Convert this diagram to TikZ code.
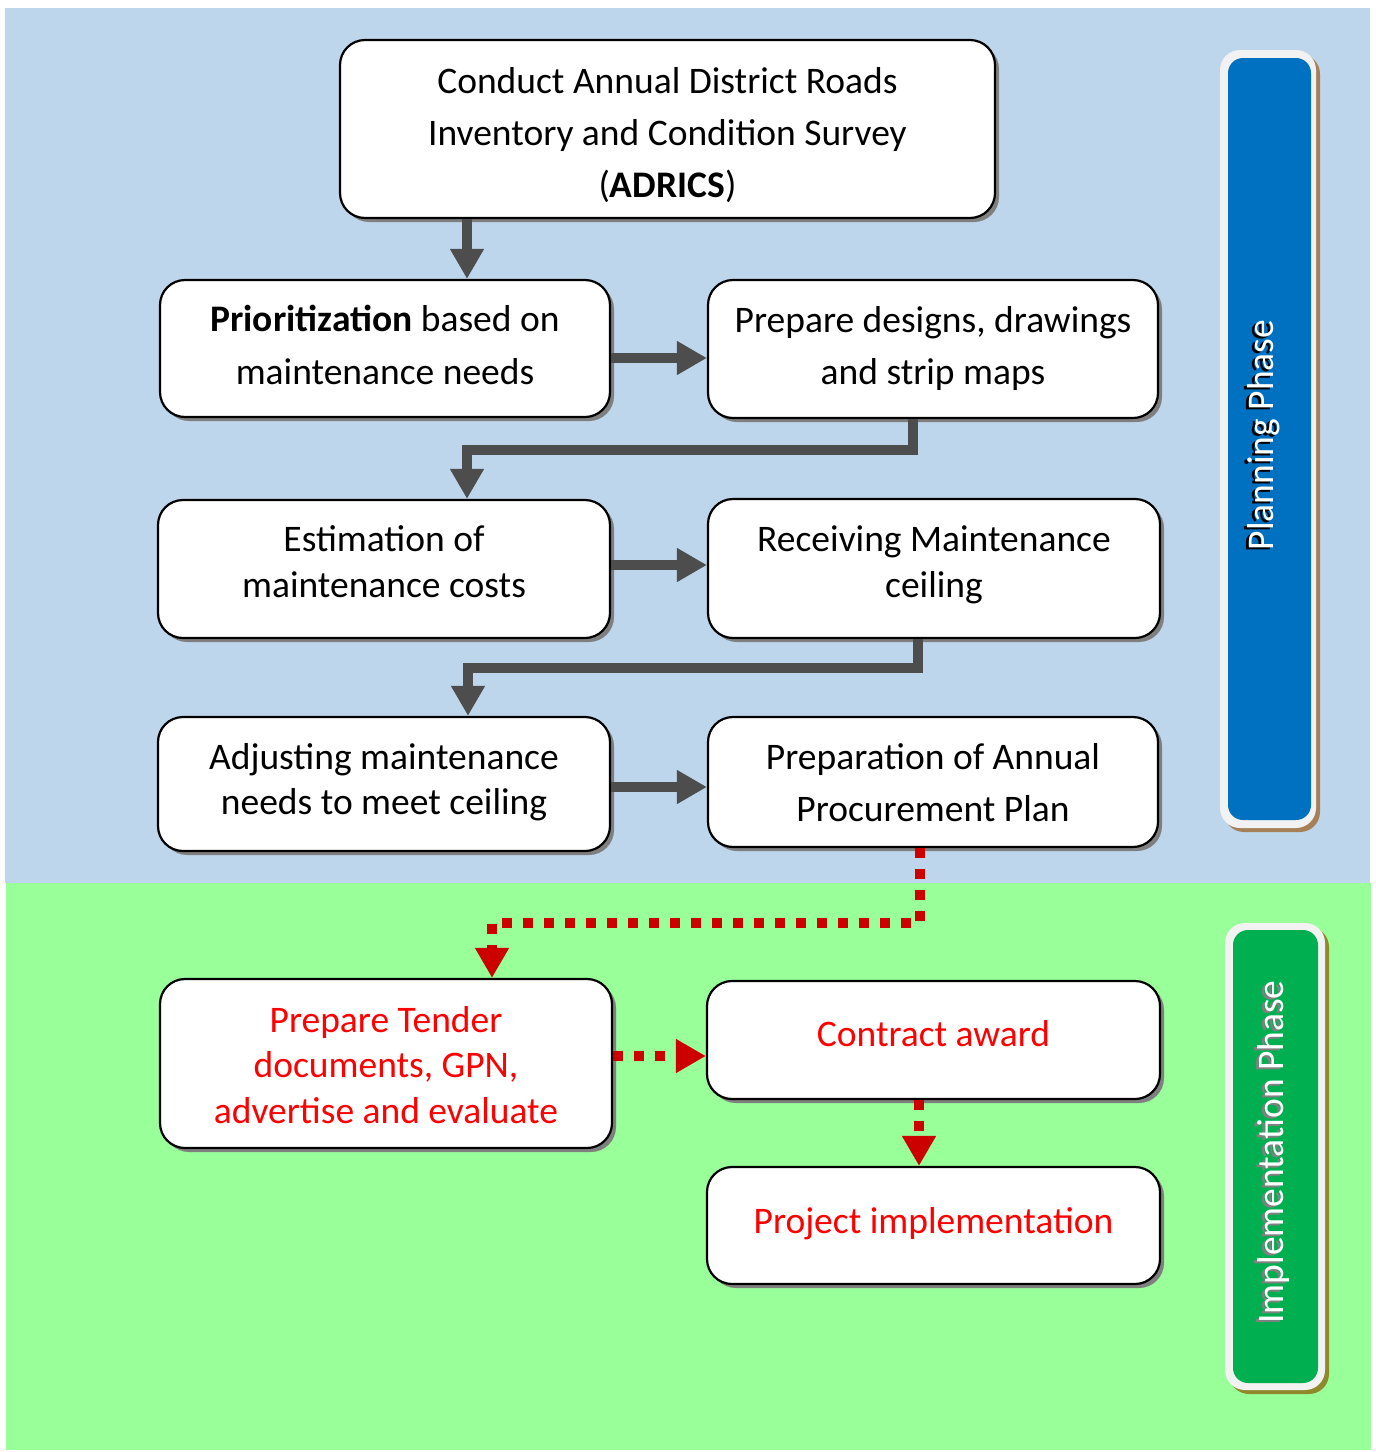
\documentclass[tikz,border=0pt]{standalone}
\usepackage{fontspec}
\setmainfont{Carlito}
\usetikzlibrary{arrows.meta,calc}
\definecolor{bgblue}{HTML}{BED6EC}
\definecolor{bggreen}{HTML}{99FF99}
\definecolor{arrgray}{HTML}{4D4D4D}
\definecolor{arrred}{HTML}{CC0000}
\definecolor{shadowgray}{HTML}{7F7F7F}
\definecolor{barblue}{HTML}{0070C0}
\definecolor{bargreen}{HTML}{00B050}
\definecolor{barwhite}{HTML}{F2F2F2}
\definecolor{txtred}{HTML}{FF0000}
\begin{document}
\begin{tikzpicture}[x=1pt,y=-1pt,
  box/.style={draw=black, line width=2.2pt, fill=white, rounded corners=25pt,
    align=center, inner sep=0pt,
    preaction={fill=shadowgray, transform canvas={shift={(4pt,-4pt)}}}},
  fs/.style={font=\fontsize{37.5}{#1}\selectfont},
  tb/.style 2 args={text height=#1pt, text depth=#2pt},
  redbox/.style={box, text=txtred},
  garr/.style={draw=arrgray, line width=10pt, line join=miter,
    -{Triangle[width=32pt,length=30pt]}},
  rarr/.style={draw=arrred, line width=10pt, dash pattern=on 10pt off 11pt,
    -{Triangle[width=32pt,length=30pt]}},
  barouter/.style={draw=none, fill=barwhite, rounded corners=20pt,
    preaction={fill=#1, transform canvas={shift={(4pt,-4pt)}}}},
  phase/.style={font=\fontsize{37.5}{42}\selectfont, rotate=90, inner sep=0pt}
]
\useasboundingbox (0,0) rectangle (1376,1452);
% backgrounds
\fill[bgblue] (5,8) rectangle (1370,883);
\fill[bggreen] (6,883) rectangle (1371,1450);

% side bars
\fill[barouter={brown!60!gray}] (1220,50) rectangle (1316,828);
\fill[barblue, rounded corners=15pt] (1228,58) rectangle (1311,820);
\node[phase, text=black] (planshadow) at (1261,437) {Planning Phase};
\node[phase, text=white] (planph) at (1264,435) {Planning Phase};

\fill[barouter={olive!70!gray}] (1225,923) rectangle (1325,1390);
\fill[bargreen, rounded corners=15pt] (1233,930) rectangle (1318,1383);
\node[phase, text=gray] (implshadow) at (1270,1154) {Implementation Phase};
\node[phase, text=white] (implph) at (1273,1152) {Implementation Phase};

% boxes
\node[box, fs=52, tb={136}{0}, minimum width=655pt, minimum height=178pt] (top) at (667.5,129)
  {Conduct Annual District Roads\\Inventory and Condition Survey\\(\textbf{ADRICS})};
\node[box, fs=53, tb={71}{0}, minimum width=450pt, minimum height=137pt] (prio) at (385,348.5)
  {\textbf{Prioritization} based on\\maintenance needs};
\node[box, fs=52, tb={70}{0}, minimum width=450pt, minimum height=138pt] (design) at (933,349)
  {Prepare designs, drawings\\and strip maps};
\node[box, fs=46, tb={56}{0}, minimum width=452pt, minimum height=138pt] (est) at (384,569)
  {Estimation of\\maintenance costs};
\node[box, fs=46, tb={57}{0}, minimum width=452pt, minimum height=139pt] (recv) at (934,568.5)
  {Receiving Maintenance\\ceiling};
\node[box, fs=45, tb={60}{0}, minimum width=452pt, minimum height=134pt] (adj) at (384,784)
  {Adjusting maintenance\\needs to meet ceiling};
\node[box, fs=52, tb={78}{0}, minimum width=450pt, minimum height=130pt] (plan) at (933,782)
  {Preparation of Annual\\Procurement Plan};
\node[redbox, fs=45.5, tb={119}{0}, minimum width=452pt, minimum height=169pt] (tender) at (386,1063.5)
  {Prepare Tender\\documents, GPN,\\advertise and evaluate};
\node[redbox, fs=40, tb={12}{0}, minimum width=453pt, minimum height=118pt] (award) at (933.5,1040)
  {Contract award};
\node[redbox, fs=40, tb={15}{0}, minimum width=453pt, minimum height=117pt] (impl) at (933.5,1225.5)
  {Project implementation};

% connectors
\draw[garr] (top.south -| 467,0) -- (prio.north -| 467,0);
\draw[garr] (prio.east |- 0,358) -- (design.west |- 0,358);
\draw[garr] (design.south -| 913,0) -- (913,450) -- (467,450) -- (est.north -| 467,0);
\draw[garr] (est.east |- 0,565) -- (recv.west |- 0,565);
\draw[garr] (recv.south -| 918,0) -- (918,668) -- (468,668) -- (adj.north -| 468,0);
\draw[garr] (adj.east |- 0,787) -- (plan.west |- 0,787);
\draw[rarr] (plan.south -| 920,0) -- (920,923) -- (492,923) -- (tender.north -| 492,0);
\draw[rarr] (tender.east |- 0,1056) -- (award.west |- 0,1056);
\draw[rarr] (award.south -| 919,0) -- (impl.north -| 919,0);
\end{tikzpicture}
\end{document}
